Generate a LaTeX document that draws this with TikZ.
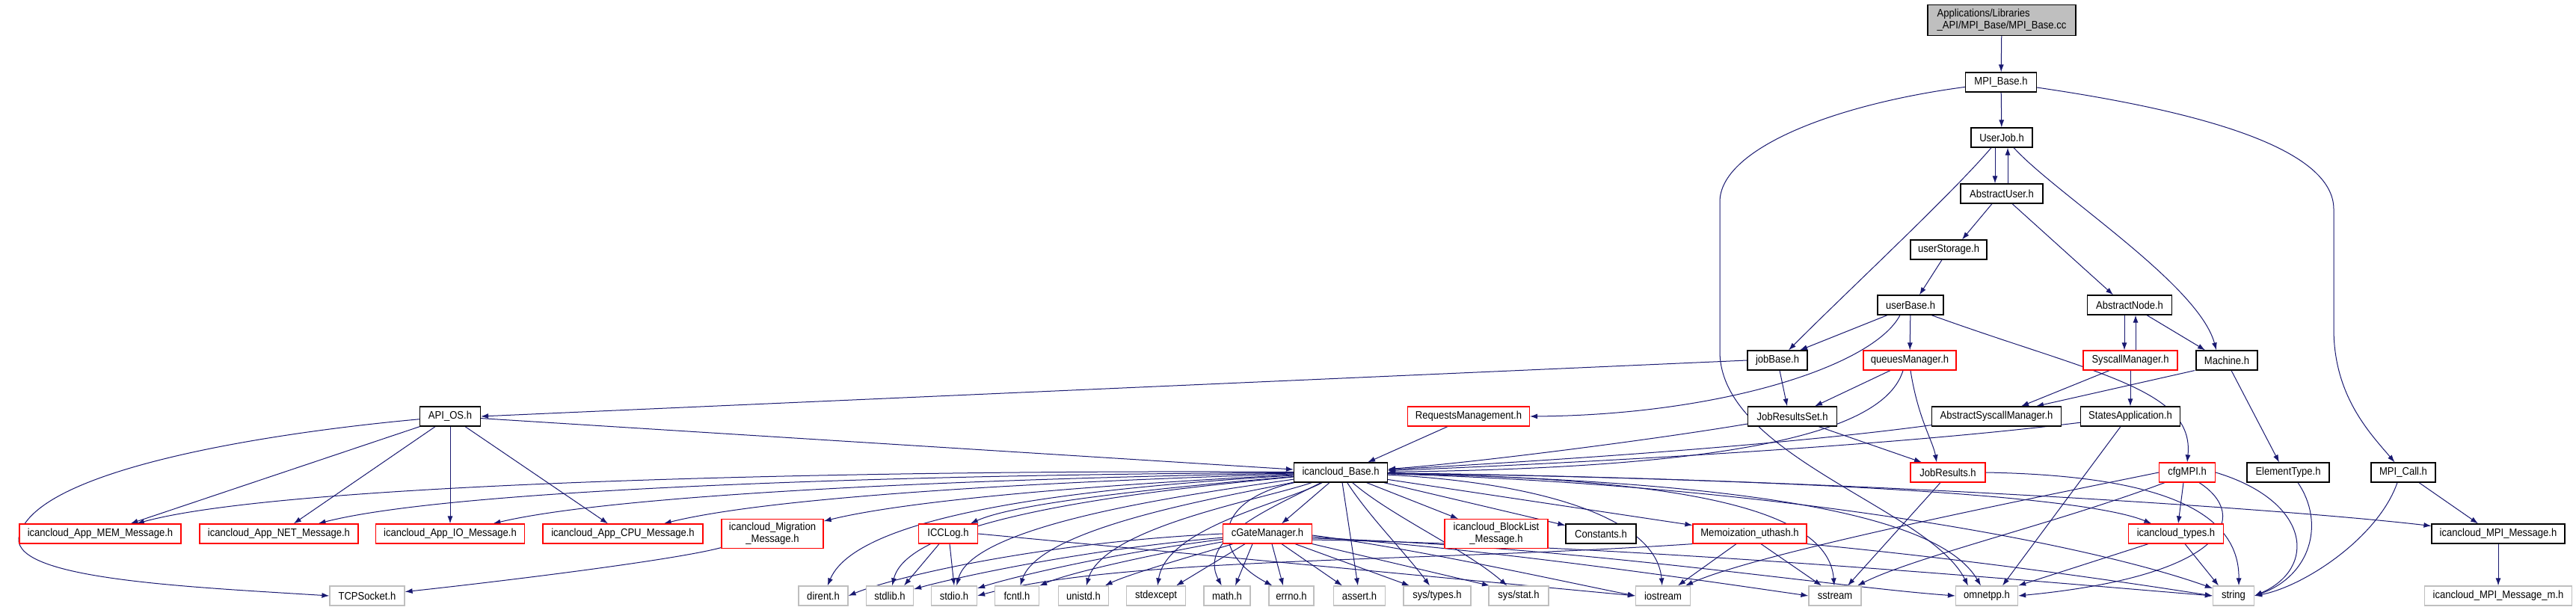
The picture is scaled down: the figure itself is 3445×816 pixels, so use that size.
\documentclass[tikz,border=0pt]{standalone}
\usepackage{fontspec}
\setmainfont{Liberation Sans}[FakeStretch=0.9]
\usetikzlibrary{arrows.meta}
\definecolor{navyc}{HTML}{191970}
\definecolor{grayb}{HTML}{BFBFBF}
\definecolor{redb}{HTML}{FF0000}
\pgfdeclarelayer{bg}
\pgfsetlayers{bg,main}
\begin{document}
\begin{tikzpicture}[x=1pt,y=-1pt,
  nd/.style={rectangle, inner sep=0pt, minimum height=26pt, line width=1.2pt, fill=white, font=\fontsize{14.5}{16}\selectfont},
  hb/.style={nd, draw=black},
  hr/.style={nd, draw=redb},
  hg/.style={nd, draw=grayb},
  hroot/.style={nd, draw=black, fill=grayb},
  e/.style={draw=navyc, line width=1pt, -{Latex[length=10pt,width=7pt]}}]
\useasboundingbox (0,0) rectangle (3445,816);
% nodes
\node[hroot, minimum width=198pt, minimum height=41pt, align=left] (root) at (2677,27) {Applications/Libraries\\\_API/MPI\_Base/MPI\_Base.cc};
\node[hb, minimum width=95pt] (mpib) at (2676,110) {MPI\_Base.h};
\node[hb, minimum width=82pt] (uj) at (2677,184) {UserJob.h};
\node[hb, minimum width=110pt] (au) at (2677,259) {AbstractUser.h};
\node[hb, minimum width=102pt] (us) at (2606,334) {userStorage.h};
\node[hb, minimum width=88pt] (ub) at (2555,408) {userBase.h};
\node[hb, minimum width=113pt] (an) at (2848,408) {AbstractNode.h};
\node[hb, minimum width=80pt] (jb) at (2377,482) {jobBase.h};
\node[hr, minimum width=124pt] (qm) at (2554,482) {queuesManager.h};
\node[hr, minimum width=126pt] (sm) at (2849,482) {SyscallManager.h};
\node[hb, minimum width=82pt] (mach) at (2978,482) {Machine.h};
\node[hb, minimum width=81pt] (api) at (602,557) {API\_OS.h};
\node[hr, minimum width=163pt] (rm) at (1964,557) {RequestsManagement.h};
\node[hb, minimum width=119pt] (jrs) at (2397,557) {JobResultsSet.h};
\node[hb, minimum width=173pt] (asys) at (2670,557) {AbstractSyscallManager.h};
\node[hb, minimum width=133pt] (sa) at (2849,557) {StatesApplication.h};
\node[hb, minimum width=125pt] (icb) at (1793,632) {icancloud\_Base.h};
\node[hr, minimum width=100pt] (jr) at (2605,632) {JobResults.h};
\node[hr, minimum width=75pt] (cfg) at (2925,632) {cfgMPI.h};
\node[hb, minimum width=110pt] (et) at (3060,632) {ElementType.h};
\node[hb, minimum width=86pt] (mc) at (3214,632) {MPI\_Call.h};
\node[hr, minimum width=216pt] (mem) at (134,714) {icancloud\_App\_MEM\_Message.h};
\node[hr, minimum width=212pt] (net) at (373,714) {icancloud\_App\_NET\_Message.h};
\node[hr, minimum width=199pt] (io) at (602,714) {icancloud\_App\_IO\_Message.h};
\node[hr, minimum width=214pt] (cpu) at (833,714) {icancloud\_App\_CPU\_Message.h};
\node[hr, minimum width=136pt, minimum height=39pt, align=center] (mig) at (1033,714) {icancloud\_Migration\\\_Message.h};
\node[hr, minimum width=79pt] (icc) at (1268,714) {ICCLog.h};
\node[hr, minimum width=119pt] (cgm) at (1695,714) {cGateManager.h};
\node[hr, minimum width=138pt, minimum height=39pt, align=center] (bl) at (2001,714) {icancloud\_BlockList\\\_Message.h};
\node[hb, minimum width=94pt] (cst) at (2141,714) {Constants.h};
\node[hr, minimum width=152pt] (memo) at (2340,714) {Memoization\_uthash.h};
\node[hr, minimum width=127pt] (typ) at (2910,714) {icancloud\_types.h};
\node[hb, minimum width=178pt] (mpim) at (3341,714) {icancloud\_MPI\_Message.h};
\node[hg, minimum width=100pt] (tcp) at (491,797) {TCPSocket.h};
\node[hg, minimum width=66pt] (dirent) at (1101,797) {dirent.h};
\node[hg, minimum width=63pt] (stdlib) at (1190,797) {stdlib.h};
\node[hg, minimum width=61pt] (stdio) at (1276,797) {stdio.h};
\node[hg, minimum width=59pt] (fcntl) at (1360,797) {fcntl.h};
\node[hg, minimum width=67pt] (unistd) at (1449,797) {unistd.h};
\node[hg, minimum width=79pt] (stdexc) at (1546,797) {stdexcept};
\node[hg, minimum width=62pt] (math) at (1641,797) {math.h};
\node[hg, minimum width=60pt] (errno) at (1727,797) {errno.h};
\node[hg, minimum width=69pt] (assert) at (1818,797) {assert.h};
\node[hg, minimum width=90pt] (systypes) at (1922,797) {sys/types.h};
\node[hg, minimum width=80pt] (sysstat) at (2031,797) {sys/stat.h};
\node[hg, minimum width=73pt] (iostream) at (2224,797) {iostream};
\node[hg, minimum width=70pt] (sstream) at (2454,797) {sstream};
\node[hg, minimum width=83pt] (omnetpp) at (2657,797) {omnetpp.h};
\node[hg, minimum width=55pt] (string) at (2987,797) {string};
\node[hg, minimum width=197pt] (mpimm) at (3341,797) {icancloud\_MPI\_Message\_m.h};
\begin{pgfonlayer}{bg}
% top part
\draw[e] (root) -- (mpib);
\draw[e] (mpib) -- (uj);
\draw[e] (mpib) .. controls (2450,140) and (2300,200) .. (2300,270) -- (2300,470) .. controls (2300,610) and (2580,680) .. ([xshift=-25pt]omnetpp.north);
\draw[e] (mpib) .. controls (2950,150) and (3121,200) .. (3121,280) -- (3121,440) .. controls (3121,530) and (3170,580) .. (mc);
\draw[e] ([xshift=-9pt]uj.south) -- ([xshift=-9pt]au.north);
\draw[e] ([xshift=8pt]au.north) -- ([xshift=8pt]uj.south);
\draw[e] ([xshift=-14pt]uj.south) .. controls (2610,260) and (2470,390) .. ([xshift=15pt]jb.north);
\draw[e] ([xshift=16pt]uj.south) .. controls (2750,260) and (2940,380) .. ([xshift=-14pt]mach.north);
\draw[e] ([xshift=-13pt]au.south) -- ([xshift=18pt]us.north);
\draw[e] ([xshift=14pt]au.south) -- ([xshift=-22pt]an.north);
\draw[e] ([xshift=-9pt]us.south) -- ([xshift=12pt]ub.north);
\draw[e] ([xshift=-31pt]ub.south) -- ([xshift=30pt]jb.north);
\draw[e] (ub) -- (qm);
\draw[e] ([xshift=-14pt]ub.south) .. controls (2505,490) and (2300,555) .. (rm.east);
\draw[e] ([xshift=28pt]ub.south) .. controls (2800,500) and (2935,520) .. (cfg.north);
\draw[e] ([xshift=-7pt]an.south) -- ([xshift=-8pt]sm.north);
\draw[e] ([xshift=7pt]sm.north) -- ([xshift=8pt]an.south);
\draw[e] ([xshift=23pt]an.south) -- ([xshift=-29pt]mach.north);
\draw[e] (jb.west) -- (api.east);
\draw[e] ([xshift=3pt]jb.south) -- ([xshift=-7pt]jrs.north);
\draw[e] ([xshift=-26pt]qm.south) -- ([xshift=30pt]jrs.north);
\draw[e] ([xshift=-9pt]qm.south) .. controls (2525,560) and (2400,625) .. (icb);
\draw[e] ([xshift=1pt]qm.south) .. controls (2565,560) and (2585,590) .. ([xshift=-15pt]jr.north);
\draw[e] ([xshift=-28pt]sm.south) -- ([xshift=33pt]asys.north);
\draw[e] (sm) -- (sa);
\draw[e] ([xshift=-43pt]mach.south) -- ([xshift=53pt]asys.north);
\draw[e] ([xshift=6pt]mach.south) -- ([xshift=-12pt]et.north);
\draw[e] ([xshift=-28pt]rm.south) -- ([xshift=36pt]icb.north);
\draw[e] (jrs) .. controls (2200,590) and (1960,620) .. (icb);
\draw[e] (asys) .. controls (2350,600) and (2000,620) .. (icb);
\draw[e] (sa) .. controls (2500,600) and (2050,622) .. (icb);
\draw[e] (api) -- (icb);
\draw[e] ([xshift=-13pt]sa.south) -- ([xshift=21pt]omnetpp.north);
\draw[e] ([xshift=35pt]jrs.south) -- ([xshift=-35pt]jr.north);
\draw[e] ([xshift=-10pt]jr.south) -- ([xshift=17pt]sstream.north);
\draw[e] (jr.east) .. controls (2880,636) and (2995,680) .. ([xshift=7pt]string.north);
\draw[e] (cfg.west) .. controls (2700,670) and (2350,740) .. ([xshift=30pt]iostream.north);
\draw[e] ([xshift=-30pt]cfg.south) .. controls (2750,700) and (2560,745) .. ([xshift=30pt]sstream.north);
\draw[e] ([xshift=-5pt]cfg.south) -- ([xshift=3pt]typ.north);
\draw[e] ([xshift=16pt]cfg.south) .. controls (3010,690) and (2980,770) .. (omnetpp.east);
\draw[e] (cfg.east) .. controls (3090,670) and (3100,760) .. (string.east);
\draw[e] ([xshift=13pt]et.south) .. controls (3110,700) and (3090,770) .. (string.east);
\draw[e] ([xshift=-8pt]mc.south) .. controls (3180,720) and (3080,785) .. (string.east);
\draw[e] ([xshift=21pt]mc.south) -- ([xshift=-27pt]mpim.north);
\draw[e] (mpim) -- (mpimm);
\draw[e] ([xshift=-37pt]typ.south) -- (omnetpp.north east);
\draw[e] ([xshift=12pt]typ.south) -- ([xshift=-20pt]string.north);
% Memoization
\draw[e] ([xshift=-18pt]memo.south) -- ([xshift=20pt]iostream.north);
\draw[e] ([xshift=15pt]memo.south) -- ([xshift=-18pt]sstream.north);
\draw[e] (memo.south east) .. controls (2650,750) and (2850,780) .. (string.west);
\draw[e] (memo.south west) .. controls (1900,752) and (1500,745) .. (stdio.east);
% ICCLog
\draw[e] ([xshift=-12pt]icc.south) -- ([xshift=19pt]stdlib.north);
\draw[e] ([xshift=2pt]icc.south) -- (stdio.north);
\draw[e] (icc.east) -- (iostream.west);
% cGateManager
\draw[e] (cgm.west) .. controls (1400,725) and (1200,770) .. (dirent.east);
\draw[e] (cgm) .. controls (1450,735) and (1280,772) .. (stdlib);
\draw[e] (cgm) .. controls (1500,738) and (1360,770) .. (stdio);
\draw[e] (cgm) .. controls (1540,742) and (1430,766) .. (fcntl);
\draw[e] (cgm) .. controls (1590,745) and (1510,768) .. (unistd);
\draw[e] ([xshift=-30pt]cgm.south) -- ([xshift=27pt]stdexc.north);
\draw[e] ([xshift=-20pt]cgm.south) -- ([xshift=11pt]math.north);
\draw[e] ([xshift=6pt]cgm.south) -- ([xshift=-11pt]errno.north);
\draw[e] ([xshift=19pt]cgm.south) -- ([xshift=-23pt]assert.north);
\draw[e] ([xshift=37pt]cgm.south) -- ([xshift=-37pt]systypes.north);
\draw[e] (cgm.south east) -- ([xshift=-39pt]sysstat.north);
\draw[e] ([yshift=-2pt]cgm.east) .. controls (1900,735) and (2100,780) .. (iostream.west);
\draw[e] ([yshift=-4pt]cgm.east) .. controls (2000,735) and (2300,780) .. (sstream.west);
\draw[e] ([yshift=-6pt]cgm.east) .. controls (2100,730) and (2450,785) .. (omnetpp.west);
\draw[e] ([yshift=-8pt]cgm.east) .. controls (2200,730) and (2750,780) .. (string.west);
% icancloud_Base outgoing
\draw[e] (icb) .. controls (1300,628) and (400,640) .. (mem);
\draw[e] (icb) .. controls (1300,634) and (620,650) .. (net);
\draw[e] (icb) .. controls (1320,640) and (830,660) .. (io);
\draw[e] (icb) .. controls (1380,645) and (1030,665) .. (cpu);
\draw[e] (icb) .. controls (1480,648) and (1220,668) .. (mig);
\draw[e] (icb) .. controls (1560,652) and (1360,672) .. (icc);
\draw[e] ([xshift=-15pt]icb.south) -- ([xshift=19pt]cgm.north);
\draw[e] (icb) .. controls (1500,650) and (1150,680) .. (dirent);
\draw[e] (icb) .. controls (1550,655) and (1215,690) .. (stdlib);
\draw[e] (icb) .. controls (1600,660) and (1300,700) .. (stdio);
\draw[e] (icb) .. controls (1640,664) and (1390,705) .. (fcntl);
\draw[e] (icb) .. controls (1690,668) and (1475,705) .. (unistd);
\draw[e] (icb) .. controls (1720,672) and (1560,705) .. (stdexc);
\draw[e] (icb) .. controls (1700,680) and (1600,720) .. (math);
\draw[e] (icb) .. controls (1620,670) and (1620,740) .. (errno);
\draw[e] (icb) -- (assert);
\draw[e] (icb) .. controls (1830,690) and (1880,740) .. (systypes);
\draw[e] (icb) .. controls (1860,690) and (1960,735) .. (sysstat);
\draw[e] (icb) -- (bl);
\draw[e] (icb) -- (cst);
\draw[e] (icb) -- (memo);
\draw[e] (icb) .. controls (2050,645) and (2215,690) .. (iostream);
\draw[e] (icb) .. controls (2250,640) and (2445,680) .. (sstream);
\draw[e] (icb) .. controls (2400,645) and (2600,700) .. (omnetpp);
\draw[e] (icb) .. controls (2400,650) and (2800,730) .. (string);
\draw[e] (icb) .. controls (2350,640) and (2780,660) .. (typ);
\draw[e] (icb) .. controls (2450,640) and (3050,680) .. (mpim);
% API_OS
\draw[e] (api) -- (mem);
\draw[e] (api) -- (net);
\draw[e] (api) -- (io);
\draw[e] (api) -- (cpu);
\draw[e] (api) .. controls (350,580) and (40,630) .. (25,720) .. controls (20,775) and (250,785) .. (tcp.west);
\draw[e] (mig) .. controls (900,750) and (650,780) .. (tcp);
\end{pgfonlayer}
\end{tikzpicture}
\end{document}
